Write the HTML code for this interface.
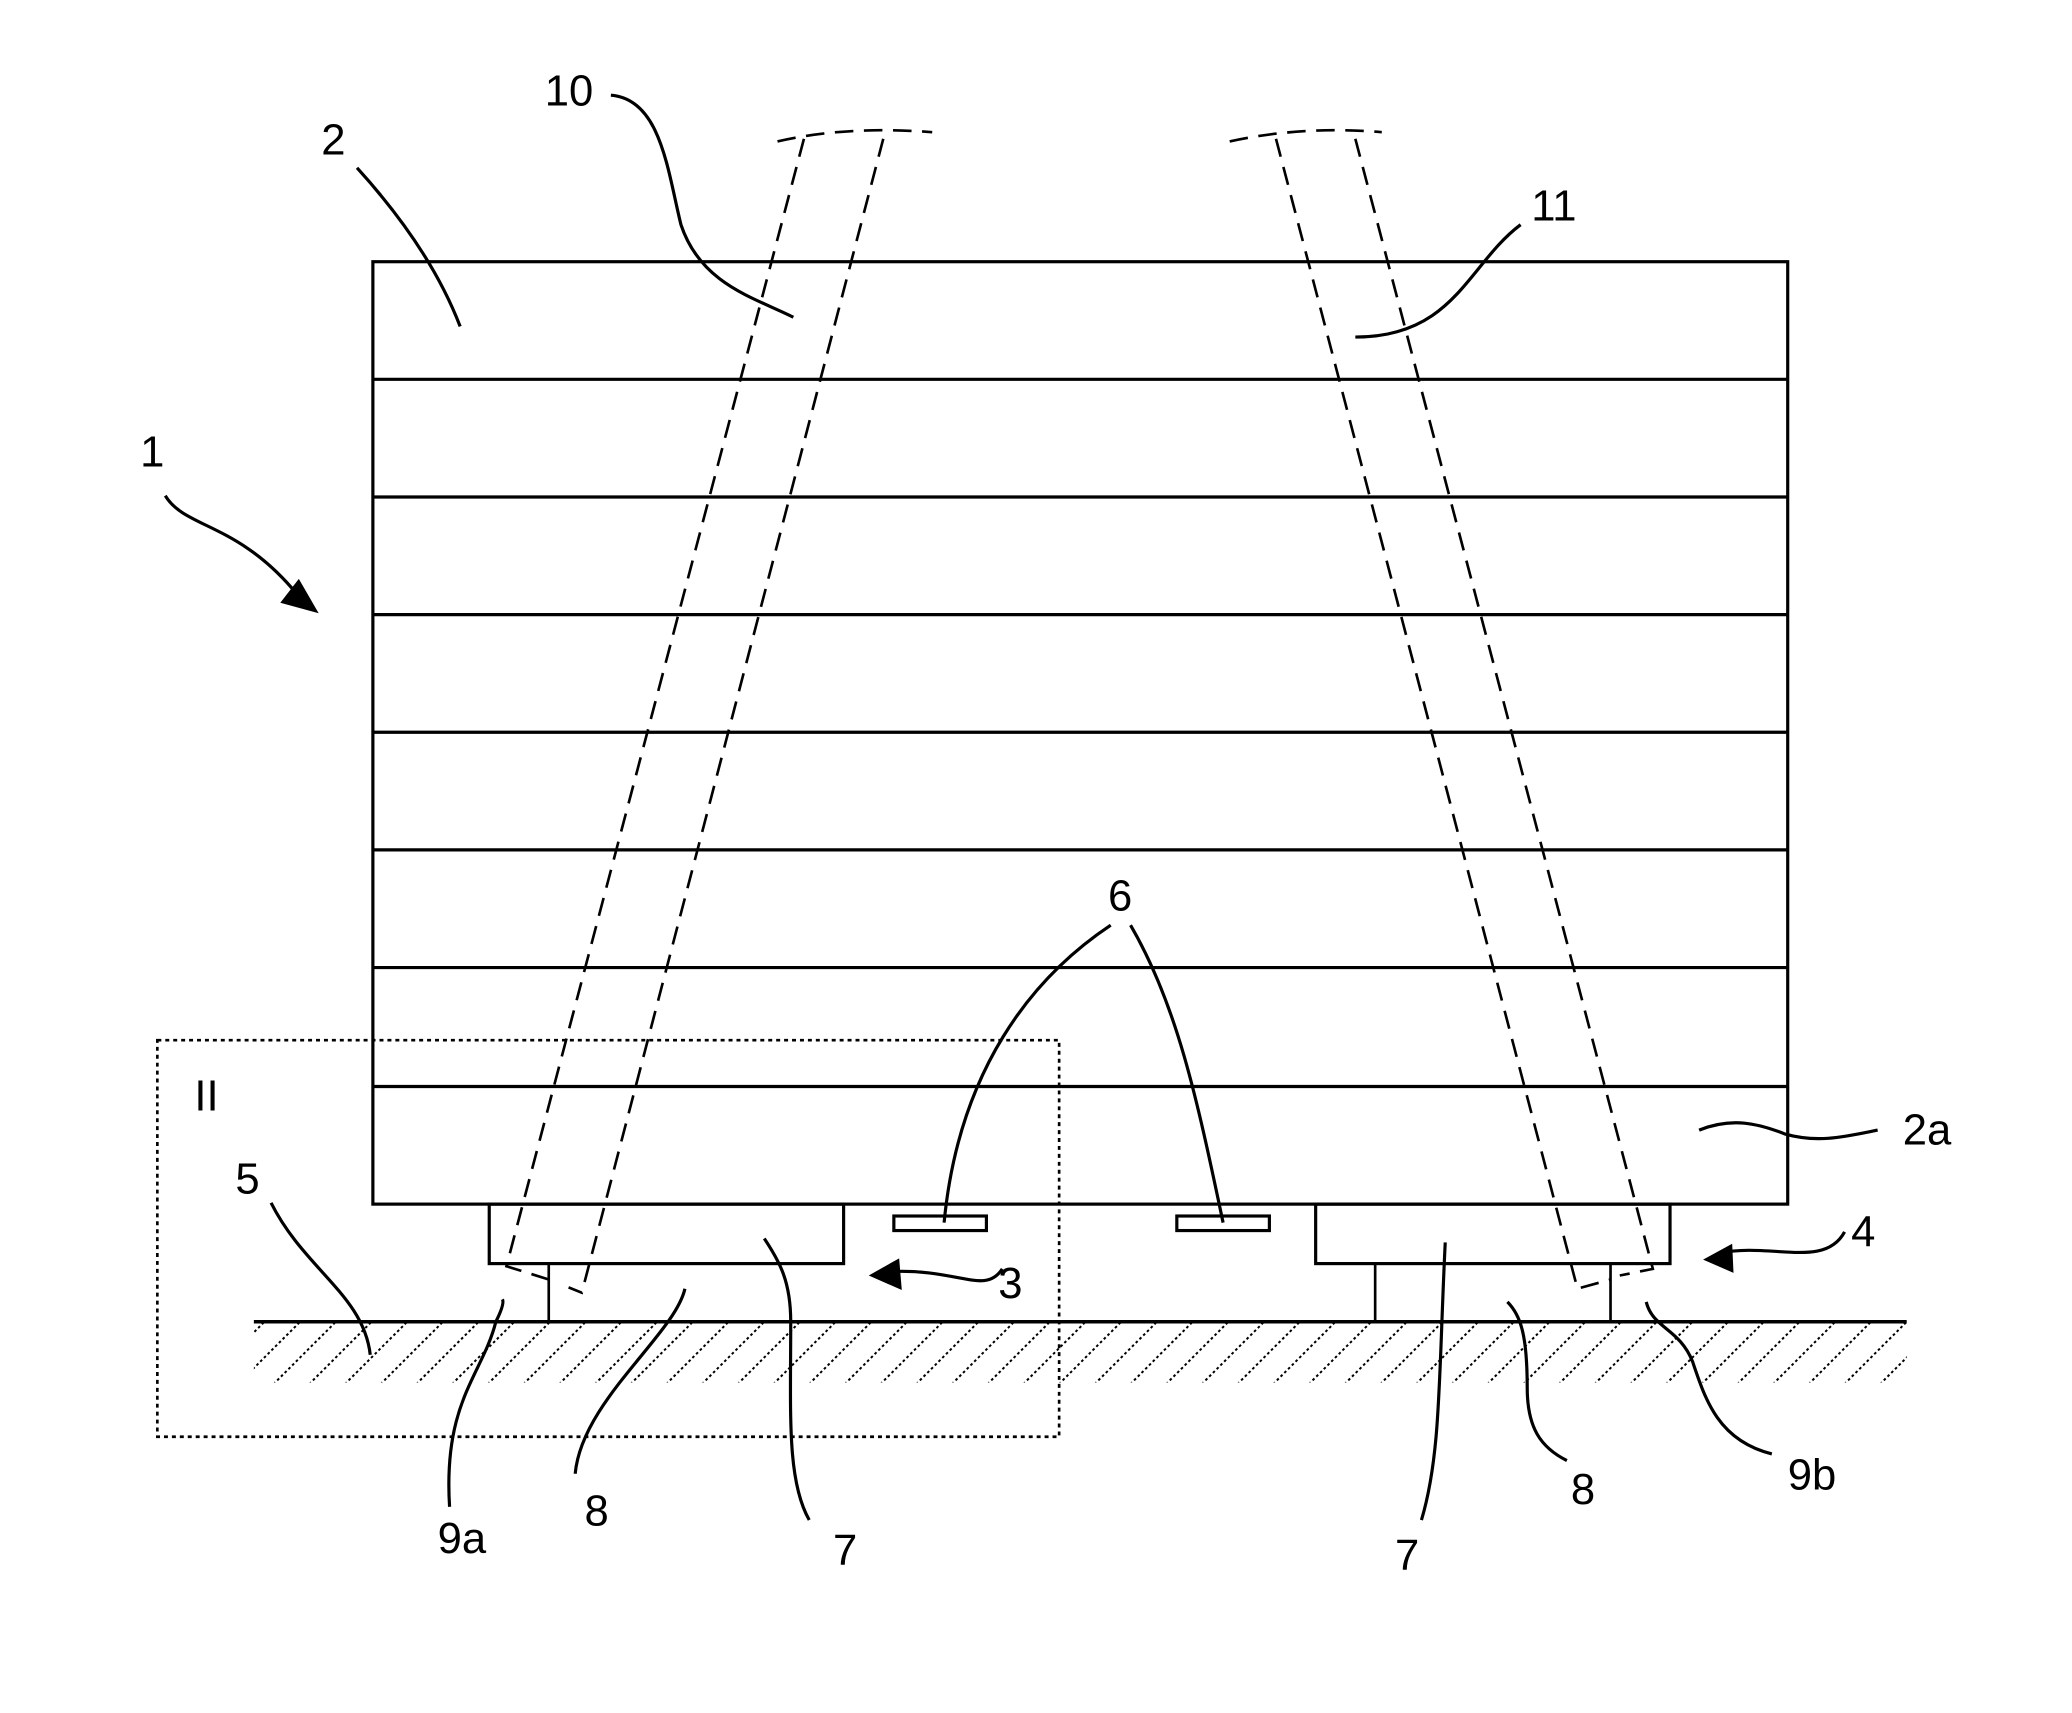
<!DOCTYPE html>
<html><head><style>html,body{margin:0;padding:0;background:#fff}svg{display:block}</style></head>
<body>
<svg width="2072" height="1713" viewBox="0 0 1567 1296" preserveAspectRatio="none" xmlns="http://www.w3.org/2000/svg">
<defs>
<clipPath id="gc"><rect x="192" y="1001" width="1250" height="45"/></clipPath>
</defs>
<g fill="none" stroke="#000" stroke-width="2.4">
<rect x="282" y="198" width="1070" height="713"/>
<path d="M282 287H1352M282 376H1352M282 465H1352M282 554H1352M282 643H1352M282 732H1352M282 822H1352"/>
<rect x="370" y="911" width="268" height="45"/>
<rect x="995" y="911" width="268" height="45"/>
<rect x="676" y="920" width="70" height="11"/>
<rect x="890" y="920" width="70" height="11"/>
<path d="M192 1000H1442" stroke-width="2.6"/>
<path d="M415 956V1000M1040 956V1000M1218 956V1000" stroke-width="2"/>
<rect x="119" y="787" width="682" height="300" stroke-width="2" stroke-dasharray="3,3"/>
<g stroke-dasharray="14,8" stroke-width="2">
<path d="M608 105L383 958L415 968"/>
<path d="M668 105L440 978L430 974"/>
<path d="M588 107Q640 95 705 100"/>
<path d="M965 105L1193 975L1218 968"/>
<path d="M1025 105L1250 960L1225 965"/>
<path d="M930 107Q985 95 1045 100"/>
</g>
<g clip-path="url(#gc)" stroke-width="1.5" stroke-dasharray="2,2">
<path d="M150 1050l50-50M177 1050l50-50M204 1050l50-50M231 1050l50-50M258 1050l50-50M285 1050l50-50M312 1050l50-50M339 1050l50-50M366 1050l50-50M393 1050l50-50M420 1050l50-50M447 1050l50-50M474 1050l50-50M501 1050l50-50M528 1050l50-50M555 1050l50-50M582 1050l50-50M609 1050l50-50M636 1050l50-50M663 1050l50-50M690 1050l50-50M717 1050l50-50M744 1050l50-50M771 1050l50-50M798 1050l50-50M825 1050l50-50M852 1050l50-50M879 1050l50-50M906 1050l50-50M933 1050l50-50M960 1050l50-50M987 1050l50-50M1014 1050l50-50M1041 1050l50-50M1068 1050l50-50M1095 1050l50-50M1122 1050l50-50M1149 1050l50-50M1176 1050l50-50M1203 1050l50-50M1230 1050l50-50M1257 1050l50-50M1284 1050l50-50M1311 1050l50-50M1338 1050l50-50M1365 1050l50-50M1392 1050l50-50M1419 1050l50-50"/>
</g>
<path d="M462 72C500 75 505 130 515 170C530 215 570 225 600 240"/>
<path d="M270 127C300 160 330 200 348 247"/>
<path d="M1150 170C1110 200 1100 255 1025 255"/>
<path d="M125 375C140 400 180 395 225 450"/>
<path d="M840 700C780 740 725 810 714 925"/>
<path d="M855 700C890 760 905 830 925 925"/>
<path d="M1285 855C1310 845 1330 850 1350 858C1375 865 1395 860 1420 855"/>
<path d="M1395 932C1380 960 1340 940 1300 948"/>
<path d="M758 960C745 980 725 960 675 962"/>
<path d="M205 910C230 960 275 980 280 1025"/>
<path d="M340 1140C335 1060 365 1040 375 1000C380 990 381 985 380 983"/>
<path d="M435 1115C440 1060 510 1010 518 975"/>
<path d="M612 1150C595 1120 598 1070 598 1000C598 970 590 955 578 937"/>
<path d="M1075 1150C1090 1100 1088 1040 1093 940"/>
<path d="M1185 1105C1165 1095 1155 1080 1155 1050C1155 1010 1150 995 1140 985"/>
<path d="M1340 1100C1300 1090 1290 1060 1280 1030C1270 1005 1250 1005 1245 985"/>
</g>
<g fill="#000">
<polygon points="212,456 241,464 226,438"/>
<polygon points="1288,953 1310,941 1311,963"/>
<polygon points="657,965 680,952 682,976"/>
</g>
<g font-family="Liberation Sans, sans-serif" font-size="33" fill="#000">
<text x="412" y="80">10</text>
<text x="243" y="117">2</text>
<text x="1158" y="167">11</text>
<text x="106" y="353">1</text>
<text x="838" y="689">6</text>
<text x="1439" y="866">2a</text>
<text x="1400" y="943">4</text>
<text x="755" y="982">3</text>
<text x="178" y="903">5</text>
<text x="147" y="840">II</text>
<text x="331" y="1175">9a</text>
<text x="442" y="1154">8</text>
<text x="630" y="1184">7</text>
<text x="1055" y="1188">7</text>
<text x="1188" y="1138">8</text>
<text x="1352" y="1127">9b</text>
</g>
</svg>
</body></html>
